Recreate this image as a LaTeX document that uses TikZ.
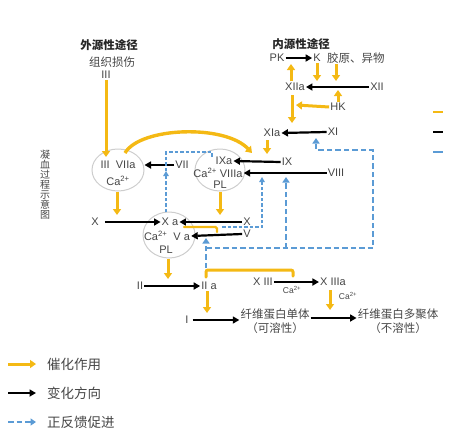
\documentclass[tikz,border=0pt]{standalone}
\usepackage{fontspec}
\setmainfont{Liberation Sans}
\newfontfamily\cjk{Noto Sans CJK SC}
\usetikzlibrary{arrows.meta,calc,shapes.geometric}
\definecolor{yel}{RGB}{244,185,20}
\definecolor{blu}{RGB}{91,155,213}
\definecolor{txt}{RGB}{70,70,70}
\definecolor{cgr}{RGB}{205,205,205}
\tikzset{
  lbl/.style={font=\fontsize{11}{12}\selectfont, text=txt, inner sep=1pt},
  sml/.style={font=\fontsize{8.5}{9}\selectfont, text=txt, inner sep=0.5pt},
  zh/.style={font=\cjk\fontsize{11.5}{14}\selectfont, text=txt, inner sep=1pt, align=center},
  circ/.style={ellipse, draw=cgr, line width=1pt, inner sep=0pt},
  ylw/.style={draw=yel, line width=3pt, -{Triangle[length=6pt,width=8pt]}},
  yl/.style={draw=yel, line width=3pt, line cap=round},
  blk/.style={draw=black, line width=2.2pt, -{Triangle[length=6.5pt,width=7pt]}},
  blu1/.style={draw=blu, line width=2pt, dash pattern=on 5.5pt off 3pt, -{Triangle[length=5.5pt,width=7pt]}},
  blu2/.style={draw=blu, line width=1.4pt, dash pattern=on 3.5pt off 2pt, -{Triangle[length=5pt,width=5.5pt]}},
}
\begin{document}
\begin{tikzpicture}[x=1pt,y=-1pt]
\useasboundingbox (0,0) rectangle (473,442);

% ---------- extrinsic heading ----------
\node[zh, font=\cjk\bfseries\fontsize{11.5}{14}\selectfont, text=black!85] (ext) at (109,45) {外源性途径};
\node[zh] (tis) at (112,62) {组织损伤};
\node[lbl] (iii) at (106,75) {III};

% ---------- intrinsic heading ----------
\node[zh, font=\cjk\bfseries\fontsize{11.5}{14}\selectfont, text=black!85] (int) at (301,44) {内源性途径};
\node[lbl] (pk) at (277,58) {PK};
\node[lbl] (k) at (317,58) {K};
\node[zh, anchor=west] (jy) at (326,58) {胶原、异物};
\node[lbl] (xiia) at (295,87) {XIIa};
\node[lbl] (xii) at (377,87) {XII};
\node[lbl] (hk) at (338,107) {HK};
\node[lbl] (xia) at (272,133) {XIa};
\node[lbl] (xi) at (333,132) {XI};

% ---------- complexes ----------
\node[circ, minimum width=52pt, minimum height=42pt] (c1) at (118,170) {};
\node[lbl] (c1a) at (118,165) {III\ \ VIIa};
\node[lbl] (c1b) at (118,181) {Ca\textsuperscript{2+}};
\node[circ, minimum width=50pt, minimum height=42pt] (c2) at (220,170) {};
\node[lbl] (c2a) at (224,161) {IXa};
\node[lbl] (c2b) at (218,173) {Ca\textsuperscript{2+} VIIIa};
\node[lbl] (c2c) at (220,185) {PL};
\node[circ, minimum width=52pt, minimum height=46pt] (c3) at (169,235) {};
\node[lbl] (c3a) at (170,222) {X a};
\node[lbl] (c3b) at (167,236) {Ca\textsuperscript{2+}\ \ V a};
\node[lbl] (c3c) at (166,250) {PL};

\node[lbl] (vii) at (182,165) {VII};
\node[lbl] (ix) at (287,162) {IX};
\node[lbl] (viii) at (336,173) {VIII};
\node[lbl] (xl) at (95,222) {X};
\node[lbl] (xr) at (247,222) {X};
\node[lbl] (v) at (247,234) {V};

% ---------- bottom ----------
\node[lbl] (ii) at (140,286) {II};
\node[lbl] (iia) at (209,286) {II a};
\node[lbl] (xiii) at (263,282) {X III};
\node[lbl] (xiiia) at (333,282) {X IIIa};
\node[sml] (ca1) at (292,290) {Ca\textsuperscript{2+}};
\node[sml] (ca2) at (348,296) {Ca\textsuperscript{2+}};
\node[lbl] (fi) at (187,320) {I};
\node[zh] (mono) at (275,321) {纤维蛋白单体\\（可溶性）};
\node[zh] (poly) at (398,321) {纤维蛋白多聚体\\（不溶性）};

% side title
\node[zh, font=\cjk\fontsize{10}{10}\selectfont] (title) at (45,185) {凝\\血\\过\\程\\示\\意\\图};

% ---------- coordinates ----------
\coordinate (iiie) at (106,157);
\coordinate (ky) at (317,81);
\coordinate (jys) at (336,64);
\coordinate (jye) at (336,81);
\coordinate (hku) at (338,90);
\coordinate (hkl) at (296,105);
\coordinate (pkb) at (291,81);
\coordinate (pkt) at (291,64);
\coordinate (xd0) at (292,95);
\coordinate (xd1) at (292,123);
\coordinate (xad0) at (267,140);
\coordinate (xad1) at (267,154);
\coordinate (cv0) at (125,153);
\coordinate (cv1) at (252,153);
\coordinate (c1d) at (117,215);
\coordinate (c2d) at (220,215);
\coordinate (c3d) at (168,279);
\coordinate (iiad) at (207,313);
\coordinate (xiiid0) at (330,290);
\coordinate (xiiid1) at (330,310);

% ---------- black arrows ----------
\draw[blk] (pk.east) -- (k.west);
\draw[blk] (xii.west) -- (xiia.east);
\draw[blk] (xi.west) -- (xia.east);
\draw[blk] (vii.west) -- (c1.east |- vii);
\draw[blk] (ix.west) -- (c2a.east);
\draw[blk] (viii.west) -- (c2b.east);
\draw[blk] ($(xl.east)+(5,0)$) -- (c3a.west);
\draw[blk] (xr.west) -- (c3a.east);
\draw[blk] (v.west) -- (c3b.east);
\draw[blk] (ii.east) -- (iia.west);
\draw[blk] ($(fi.east)+(3,0)$) -- ($(mono.west)+(0,-1)$);
\draw[blk] (xiii.east) -- (xiiia.west);
\draw[blk] ($(mono.east)+(0,-3)$) -- ($(poly.west)+(0,-3)$);

% ---------- yellow (catalysis) ----------
\draw[ylw] (iii.south) -- (iiie);
\draw[ylw] (k.south) -- (ky);
\draw[ylw] (jys) -- (jye);
\draw[ylw] (hk.north) -- (hku);
\draw[ylw] (hk.west) -- (hkl);
\draw[ylw] (pkb) -- (pkt);
\draw[ylw] (xd0) -- (xd1);
\draw[ylw] (xad0) -- (xad1);
\draw[ylw, line width=3.4pt] (cv0) .. controls (140,127) and (225,124) .. (cv1);
\draw[ylw] (c1.south -| c1d) -- (c1d);
\draw[ylw] (c2.south) -- (c2d);
\draw[ylw] (c3.south -| c3d) -- (c3d);
\draw[ylw] (iia.south -| iiad) -- (iiad);
\draw[ylw] (xiiid0) -- (xiiid1);
\draw[yl, rounded corners=2pt] (206,277) -- (206,270) -- (293,270) -- (293,276);
\draw[yl, line width=2.4pt, rounded corners=1.5pt] (184,227) -- (217,227) -- (217,232);

% ---------- blue dashed (feedback) ----------
\coordinate (ba0) at (206,268);
\coordinate (ba1) at (206,238);
\coordinate (bj) at (206,248);
\coordinate (bj2) at (286,248);
\coordinate (b8) at (286,177);
\coordinate (b11) at (316,138);
\draw[blu1] (ba0) -- (ba1);
\draw[blu1] (bj) -- (373,248) -- (373,150) -- (316,150) -- (b11);
\draw[blu1] (bj2) -- (b8);
\coordinate (bb0) at (222,227);
\coordinate (bb1) at (262,177);
\draw[blu2] (bb0) -- (262,227) -- (bb1);
\coordinate (bc0) at (166,212);
\coordinate (bc1) at (166,171);
\draw[blu2] (bc0) -- (bc1);
\draw[blu2, -] (bc1) -- (166,152) -- (212,152) -- (212,157);

% ---------- right-edge legend marks ----------
\draw[draw=yel, line width=2.4pt] (433,112) -- (443,112);
\draw[draw=black, line width=2.4pt] (433,132) -- (443,132);
\draw[draw=blu, line width=2.4pt] (433,152) -- (443,152);

% ---------- legend ----------
\coordinate (l1a) at (8,364); \coordinate (l1b) at (36,364);
\coordinate (l2a) at (8,393); \coordinate (l2b) at (36,393);
\coordinate (l3a) at (8,422); \coordinate (l3b) at (36,422);
\draw[ylw] (l1a) -- (l1b);
\draw[blk] (l2a) -- (l2b);
\draw[blu1, line width=2.4pt] (l3a) -- (l3b);
\node[zh, anchor=west, font=\cjk\fontsize{13.5}{15}\selectfont] (g1) at (46,364) {催化作用};
\node[zh, anchor=west, font=\cjk\fontsize{13.5}{15}\selectfont] (g2) at (46,393) {变化方向};
\node[zh, anchor=west, font=\cjk\fontsize{13.5}{15}\selectfont] (g3) at (46,422) {正反馈促进};
\end{tikzpicture}
\end{document}
